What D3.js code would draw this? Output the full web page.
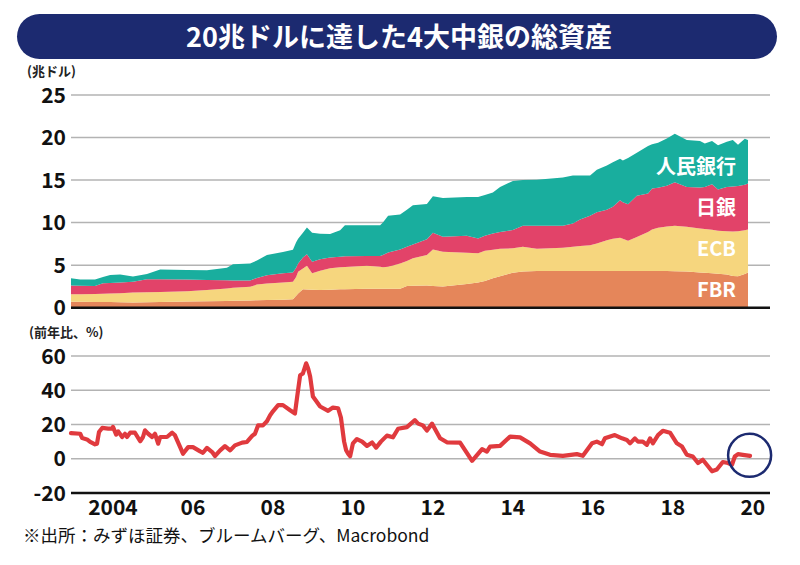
<!DOCTYPE html>
<html><head><meta charset="utf-8">
<script src="https://cdn.jsdelivr.net/npm/d3@7"></script>
<style>
html,body{margin:0;padding:0;background:#fff;}
svg{display:block;font-family:"Noto Sans CJK JP","Noto Sans",sans-serif;}
</style></head>
<body><svg id="c" width="800" height="565"></svg>
<script>
// ---- Data ----
const title = "20兆ドルに達した4大中銀の総資産";
const unitTop = "(兆ドル)";
const unitBottom = "(前年比、%)";
const source = "※出所：みずほ証券、ブルームバーグ、Macrobond";
const seriesNames = ["FBR", "ECB", "日銀", "人民銀行"];
const seriesColors = ["#E5865A", "#F6D67E", "#E24369", "#19AE9E"];

const dates = [2002.95,2003.18,2003.55,2003.75,2003.93,2004.18,2004.50,2004.85,2005.18,2005.85,
 2006.35,2006.85,2007.00,2007.43,2007.60,2007.85,2008.25,2008.50,2008.58,2008.63,
 2008.75,2008.85,2008.98,2009.18,2009.43,2009.68,2009.80,2010.35,2010.68,2010.75,
 2010.88,2011.18,2011.35,2011.50,2011.85,2012.00,2012.25,2012.85,2013.13,2013.30,
 2013.50,2013.68,2014.00,2014.25,2014.60,2015.25,2015.50,2015.68,2015.93,2016.10,
 2016.35,2016.50,2016.68,2016.75,2016.88,2017.10,2017.38,2017.48,2017.63,2017.85,
 2018.05,2018.35,2018.68,2018.80,2018.98,2019.13,2019.35,2019.50,2019.63,2019.80,2019.88];

const fbr = [.70,.69,.68,.67,.66,.65,.62,.64,.67,.72,
 .76,.80,.82,.86,.88,.90,.94,.98,1.40,1.68,
 2.16,2.14,2.10,2.08,2.10,2.16,2.18,2.24,2.24,2.24,
 2.24,2.24,2.55,2.58,2.60,2.55,2.48,2.78,2.95,3.15,
 3.45,3.70,4.10,4.25,4.30,4.30,4.30,4.30,4.30,4.30,
 4.30,4.30,4.30,4.30,4.30,4.30,4.30,4.30,4.30,4.30,
 4.28,4.25,4.15,4.10,4.05,4.00,3.90,3.72,3.70,3.95,4.15];
const ecb = [.87,.90,.94,.98,1.02,1.06,1.18,1.19,1.19,1.21,
 1.32,1.45,1.53,1.59,1.84,1.95,2.01,2.07,2.20,2.55,
 2.44,2.79,1.94,2.27,2.55,2.58,2.60,2.69,2.56,2.50,
 2.56,2.96,2.95,3.22,3.60,4.30,4.10,3.68,3.45,3.55,
 3.35,3.24,2.88,2.91,2.64,2.75,2.85,2.95,3.05,3.25,
 3.64,3.80,3.92,3.80,3.57,4.00,4.60,4.90,5.10,5.25,
 5.35,5.25,5.15,5.15,5.10,5.05,5.10,5.24,5.30,5.15,5.05];
const boj = [1.03,.99,.93,1.21,1.22,1.24,1.25,1.50,1.47,1.37,
 1.17,.97,.85,.75,.78,.95,1.09,1.10,1.10,.97,
 1.30,1.34,1.36,1.35,1.25,1.26,1.27,1.14,1.27,1.46,
 1.70,1.65,1.65,1.64,1.86,1.95,1.75,1.99,1.74,1.75,
 1.93,1.96,2.14,2.47,2.69,2.58,2.75,3.12,3.45,3.68,
 3.56,3.76,4.42,4.30,4.28,4.85,4.52,4.80,4.70,4.78,
 5.12,4.70,4.83,4.95,5.35,4.85,5.20,5.29,5.30,5.35,5.40];
const pboc = [.85,.72,.75,.74,.94,.95,.62,.62,1.17,1.13,
 1.15,1.48,1.90,2.00,2.05,2.38,2.52,2.65,3.00,2.90,
 2.90,3.17,3.40,3.00,2.75,3.10,3.65,3.63,3.63,3.80,
 4.30,4.10,4.35,4.61,4.14,4.30,4.57,4.55,4.86,4.80,
 4.82,5.30,5.78,5.37,5.42,5.67,5.65,5.18,4.75,4.97,
 5.20,5.24,4.86,4.90,5.45,5.05,5.58,5.20,5.30,5.57,
 5.70,5.50,5.47,5.10,5.10,5.20,5.30,5.45,4.85,5.40,5.10];

const yoyDates = [2002.95,2003.18,2003.23,2003.35,2003.43,2003.55,2003.60,2003.65,2003.73,2003.88,
 2003.98,2004.00,2004.08,2004.13,2004.23,2004.30,2004.35,2004.43,2004.55,2004.68,
 2004.75,2004.80,2004.88,2004.98,2005.05,2005.13,2005.18,2005.35,2005.48,2005.55,
 2005.68,2005.75,2005.88,2006.00,2006.18,2006.25,2006.35,2006.48,2006.55,2006.68,
 2006.80,2006.93,2007.05,2007.23,2007.35,2007.48,2007.55,2007.63,2007.75,2007.85,
 2007.93,2008.00,2008.13,2008.25,2008.43,2008.55,2008.60,2008.68,2008.75,2008.83,
 2008.88,2008.93,2009.00,2009.18,2009.38,2009.50,2009.63,2009.70,2009.78,2009.83,
 2009.88,2009.93,2010.00,2010.10,2010.23,2010.35,2010.48,2010.58,2010.70,2010.85,
 2011.00,2011.13,2011.35,2011.55,2011.63,2011.75,2011.85,2011.98,2012.18,2012.35,
 2012.68,2012.98,2013.23,2013.35,2013.43,2013.68,2013.93,2014.18,2014.43,2014.68,
 2014.93,2015.25,2015.60,2015.75,2015.98,2016.10,2016.23,2016.30,2016.55,2016.73,
 2016.85,2016.93,2017.05,2017.13,2017.25,2017.35,2017.43,2017.50,2017.63,2017.75,
 2017.93,2018.10,2018.23,2018.35,2018.50,2018.63,2018.75,2018.85,2018.98,2019.10,
 2019.25,2019.38,2019.48,2019.55,2019.63,2019.75,2019.93];
const yoy = [15.0,14.6,12.1,11.3,9.8,8.4,8.8,15.6,18.0,17.6,
 17.6,18.6,14.1,16.0,12.7,14.6,12.7,15.2,15.2,10.2,
 12.7,16.6,14.6,12.7,14.6,8.8,12.7,12.7,15.2,13.7,
 6.8,2.9,6.8,6.8,4.3,3.5,6.3,3.9,1.6,4.9,
 7.4,4.9,7.8,9.4,9.8,13.3,14.6,19.5,19.5,21.9,
 25.4,27.7,31.3,31.3,28.3,26.4,35.2,48.8,49.8,55.7,
 52.7,48.0,36.3,30.5,28.0,29.9,29.5,24.0,10.0,5.0,
 3.0,1.5,9.0,11.5,10.0,7.5,9.5,6.5,10.0,13.5,
 12.5,17.5,18.5,22.5,20.5,19.5,16.5,20.5,12.0,9.6,
 9.4,-1.2,5.6,4.2,7.1,7.5,12.9,12.5,9.0,4.2,
 2.3,1.7,2.7,1.7,9.0,10.0,8.5,11.9,13.8,11.9,
 11.0,9.0,11.9,10.0,10.0,8.1,11.9,9.0,13.8,16.3,
 15.2,9.0,7.1,2.3,1.3,-2.5,-0.6,-3.5,-7.3,-6.3,
 -1.9,-2.5,-3.5,1.3,2.7,2.3,1.7];

const topTicks = [0, 5, 10, 15, 20, 25];
const bottomTicks = [-20, 0, 20, 40, 60];
const xTicks = [2004, 2006, 2008, 2010, 2012, 2014, 2016, 2018, 2020];
const xTickLabels = ["2004", "06", "08", "10", "12", "14", "16", "18", "20"];
const labelVals = [2.1, 6.9, 11.7, 16.6];
const highlight = {year: 2019.92, value: 2.0};

// ---- Drawing ----
const svg = d3.select("#c");

// Title banner
svg.append("rect").attr("x", 17).attr("y", 14).attr("width", 760).attr("height", 45)
  .attr("rx", 22.5).attr("fill", "#1C2A70");
svg.append("text").attr("x", 399).attr("y", 47).attr("text-anchor", "middle")
  .attr("fill", "#fff").attr("font-size", 27).attr("font-weight", 700).text(title);

const x = d3.scaleLinear().domain([2002.95, 2020.43]).range([71, 770]);
const yTop = d3.scaleLinear().domain([0, 25]).range([307.7, 95]);
const yBot = d3.scaleLinear().domain([-20, 60]).range([493, 356]);

// Top gridlines
const gTop = svg.append("g");
gTop.selectAll("line.grid").data(topTicks.filter(d => d > 0)).join("line")
  .attr("x1", x.range()[0]).attr("x2", x.range()[1])
  .attr("y1", d => yTop(d)).attr("y2", d => yTop(d))
  .attr("stroke", "#b3b3b3").attr("stroke-width", 1.5);

// stacked area
const rows = dates.map((d, i) => ({date: d, FBR: fbr[i], ECB: ecb[i], "日銀": boj[i], "人民銀行": pboc[i]}));
const stack = d3.stack().keys(seriesNames)(rows);
const area = d3.area().x(d => x(d.data.date)).y0(d => yTop(d[0])).y1(d => yTop(d[1]))
  .curve(d3.curveLinear);
gTop.selectAll("path.layer").data(stack).join("path")
  .attr("d", area).attr("fill", (d, i) => seriesColors[i]);

// baseline
gTop.append("line").attr("x1", x.range()[0]).attr("x2", x.range()[1])
  .attr("y1", yTop(0)).attr("y2", yTop(0)).attr("stroke", "#111").attr("stroke-width", 2.5);

// top y labels
gTop.selectAll("text.yl").data(topTicks).join("text")
  .attr("x", 66).attr("y", d => yTop(d)).attr("dy", "0.36em").attr("text-anchor", "end")
  .attr("font-size", 21).attr("font-weight", 700).attr("fill", "#111").text(d => d);
svg.append("text").attr("x", 27).attr("y", 76).attr("font-size", 13).attr("font-weight", 700)
  .attr("fill", "#222").text(unitTop);

// layer labels
svg.selectAll("text.lab").data(seriesNames).join("text")
  .attr("x", 736).attr("y", (d, i) => yTop(labelVals[i])).attr("dy", "0.36em")
  .attr("text-anchor", "end").attr("fill", "#fff").attr("font-size", 20).attr("font-weight", 700)
  .text(d => d);

// Bottom chart
const gBot = svg.append("g");
gBot.selectAll("line.grid").data(bottomTicks.filter(d => d > -20)).join("line")
  .attr("x1", x.range()[0]).attr("x2", x.range()[1])
  .attr("y1", d => yBot(d)).attr("y2", d => yBot(d))
  .attr("stroke", "#b3b3b3").attr("stroke-width", 1.5);
gBot.append("line").attr("x1", x.range()[0]).attr("x2", x.range()[1])
  .attr("y1", yBot(-20)).attr("y2", yBot(-20)).attr("stroke", "#111").attr("stroke-width", 2.5);

const line = d3.line().x((d, i) => x(yoyDates[i])).y(d => yBot(d)).curve(d3.curveLinear);
gBot.append("path").attr("d", line(yoy)).attr("fill", "none")
  .attr("stroke", "#E03A3E").attr("stroke-width", 4.2).attr("stroke-linejoin", "round").attr("stroke-linecap", "round");

gBot.append("circle").attr("cx", x(highlight.year)).attr("cy", yBot(highlight.value))
  .attr("r", 21.5).attr("fill", "none").attr("stroke", "#1C2A70").attr("stroke-width", 2.5);

gBot.selectAll("text.yl").data(bottomTicks).join("text")
  .attr("x", 66).attr("y", d => yBot(d)).attr("dy", "0.36em").attr("text-anchor", "end")
  .attr("font-size", 21).attr("font-weight", 700).attr("fill", "#111").text(d => d);
svg.append("text").attr("x", 29).attr("y", 337).attr("font-size", 13).attr("font-weight", 700)
  .attr("fill", "#222").text(unitBottom);

// x labels
gBot.selectAll("text.xl").data(xTicks).join("text")
  .attr("x", d => x(d)).attr("y", 515).attr("text-anchor", "middle")
  .attr("font-size", 21).attr("font-weight", 700).attr("fill", "#111")
  .text((d, i) => xTickLabels[i]);

svg.append("text").attr("x", 23).attr("y", 542).attr("font-size", 17.5).attr("fill", "#111")
  .text(source);
</script></body></html>
